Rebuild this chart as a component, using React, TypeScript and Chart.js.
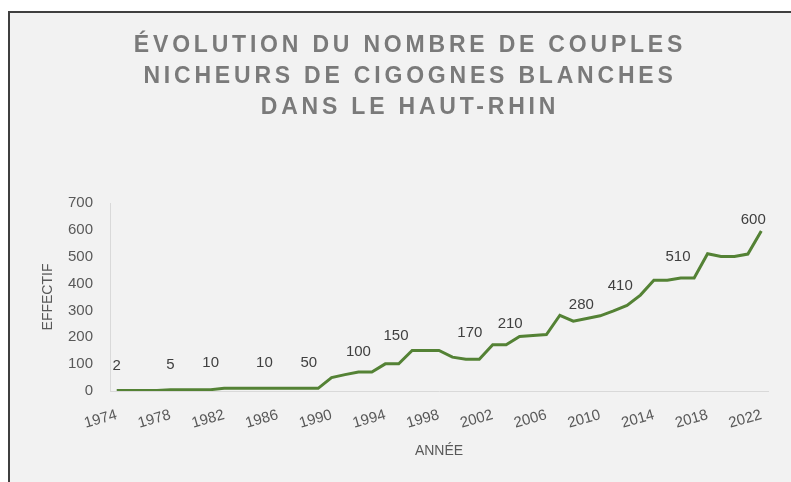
import { useEffect, useRef } from 'react';
import { Chart, registerables } from 'chart.js';

Chart.register(...registerables);

const titleLines = [
  'ÉVOLUTION DU NOMBRE DE COUPLES',
  'NICHEURS DE CIGOGNES BLANCHES',
  'DANS LE HAUT-RHIN',
];

const years = [
  '1974', '1975', '1976', '1977', '1978', '1979', '1980', '1981', '1982', '1983',
  '1984', '1985', '1986', '1987', '1988', '1989', '1990', '1991', '1992', '1993',
  '1994', '1995', '1996', '1997', '1998', '1999', '2000', '2001', '2002', '2003',
  '2004', '2005', '2006', '2007', '2008', '2009', '2010', '2011', '2012', '2013',
  '2014', '2015', '2016', '2017', '2018', '2019', '2020', '2021', '2022',
];

const couples = [
  2, 2, 2, 2, 5, 5, 5, 5, 10, 10,
  10, 10, 10, 10, 10, 10, 50, 61, 71, 71,
  101, 101, 151, 151, 151, 126, 118, 118, 172, 172,
  203, 207, 210, 282, 260, 270, 280, 298, 319, 357,
  412, 412, 421, 421, 511, 501, 501, 510, 596,
];

const tickYears = ['1974', '1978', '1982', '1986', '1990', '1994', '1998', '2002', '2006', '2010', '2014', '2018', '2022'];

const labelTexts = ['2', '5', '10', '10', '50', '100', '150', '170', '210', '280', '410', '510', '600'];
const labelYears = [1974, 1978, 1981, 1985, 1988.3, 1992, 1994.8, 2000.3, 2003.3, 2008.6, 2011.5, 2015.8, 2021.4];
const labelLevels = [92, 96, 104, 103, 103, 147, 206, 217, 251, 320, 391, 501, 636];

const FONT = '"Liberation Sans", Arial, sans-serif';

const titlePlugin = {
  id: 'frenchTitle',
  afterDraw(chart: any) {
    const ctx = chart.ctx as CanvasRenderingContext2D;
    ctx.save();
    ctx.font = `bold 23px ${FONT}`;
    ctx.fillStyle = '#7a7a7a';
    ctx.textAlign = 'center';
    ctx.textBaseline = 'middle';
    (ctx as any).letterSpacing = '3.8px';
    titleLines.forEach((line, i) => {
      ctx.fillText(line, 410, 46 + i * 31);
    });
    ctx.restore();
  },
};

const labelPlugin = {
  id: 'pointLabels',
  afterDatasetsDraw(chart: any) {
    const ctx = chart.ctx as CanvasRenderingContext2D;
    const xs = chart.scales.x;
    const ys = chart.scales.y;
    ctx.save();
    ctx.font = `15px ${FONT}`;
    ctx.fillStyle = '#404040';
    ctx.textAlign = 'center';
    ctx.textBaseline = 'middle';
    labelTexts.forEach((t, i) => {
      const xi = labelYears[i] - Number(years[0]);
      ctx.fillText(t, xs.getPixelForValue(xi), ys.getPixelForValue(labelLevels[i]));
    });
    ctx.restore();
  },
};

export default function App() {
  const ref = useRef<HTMLCanvasElement>(null);

  useEffect(() => {
    if (!ref.current) return;
    const chart = new Chart(ref.current, {
      type: 'line',
      data: {
        labels: years,
        datasets: [
          {
            label: 'Effectif',
            data: couples,
            borderColor: '#548235',
            borderWidth: 3,
            pointRadius: 0,
            tension: 0,
            fill: false,
          },
        ],
      },
      options: {
        animation: false,
        responsive: false,
        devicePixelRatio: 1,
        layout: { padding: { top: 203, left: 0, right: 23, bottom: 0 } },
        plugins: {
          legend: { display: false },
          tooltip: { enabled: false },
          title: { display: false },
        },
        scales: {
          x: {
            type: 'category',
            offset: true,
            grid: { display: false, drawTicks: false },
            border: { display: true, color: '#d9d9d9', width: 1 },
            ticks: {
              autoSkip: false,
              minRotation: 16,
              maxRotation: 16,
              padding: 15,
              color: '#595959',
              font: { family: FONT, size: 15 },
              callback: (_v: any, idx: number) => (tickYears.includes(years[idx]) ? years[idx] : ''),
            },
            title: {
              display: true,
              text: 'ANNÉE',
              color: '#595959',
              font: { family: FONT, size: 14 },
              padding: { top: 0, bottom: 22 },
            },
            afterFit: (scale: any) => {
              scale.height = 91;
            },
          },
          y: {
            min: 0,
            max: 700,
            grid: { display: false, drawTicks: false },
            border: { display: true, color: '#d9d9d9', width: 1 },
            ticks: {
              stepSize: 100,
              padding: 17,
              color: '#595959',
              font: { family: FONT, size: 15 },
            },
            title: {
              display: true,
              text: 'EFFECTIF',
              color: '#595959',
              font: { family: FONT, size: 14 },
              padding: { top: 40, bottom: 0 },
            },
            afterFit: (scale: any) => {
              scale.width = 110;
            },
          },
        },
      },
      plugins: [titlePlugin, labelPlugin],
    });
    return () => chart.destroy();
  }, []);

  return (
    <div style={{ position: 'fixed', left: 0, top: 0, width: 791, height: 482, background: '#ffffff', overflow: 'hidden' }}>
      <div
        style={{
          position: 'absolute',
          left: 8,
          top: 11,
          width: 783,
          height: 471,
          boxSizing: 'border-box',
          background: '#f2f2f2',
          borderTop: '2px solid #3f3f3f',
          borderLeft: '2px solid #3f3f3f',
        }}
      />
      <canvas ref={ref} width={791} height={482} style={{ position: 'absolute', left: 0, top: 0, display: 'block' }} />
    </div>
  );
}
